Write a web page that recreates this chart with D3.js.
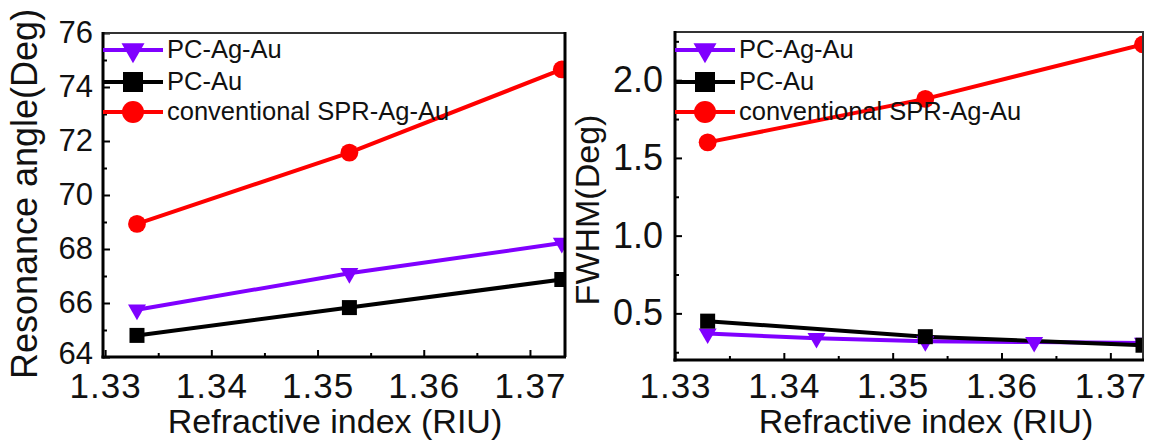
<!DOCTYPE html>
<html>
<head>
<meta charset="utf-8">
<script src="https://cdn.jsdelivr.net/npm/d3@7"></script>
<style>
  html, body { margin: 0; padding: 0; background: #fff; }
  svg { display: block; font-family: "Liberation Sans", Arial, sans-serif; }
</style>
</head>
<body>
<svg id="chart" width="1156" height="443"></svg>
<script>
// Refractive index of the sensing medium (RIU)
const riCoarse = [1.333, 1.353, 1.373];
const riFine = [1.333, 1.343, 1.353, 1.363, 1.373];

// Resonance angle (deg)
const angleAgAu = [65.75, 67.1, 68.22];
const angleAu = [64.8, 65.83, 66.87];
const angleSPR = [68.93, 71.57, 74.65];

// FWHM (deg)
const fwhmAgAu = [0.37, 0.34, 0.32, 0.315, 0.31];
const fwhmAu = [0.45, 0.35, 0.295];
const fwhmSPR = [1.60, 1.88, 2.23];

const seriesNames = ["PC-Ag-Au", "PC-Au", "conventional SPR-Ag-Au"];

// Tick values
const xMajorTicks = [1.33, 1.34, 1.35, 1.36, 1.37];
const xMinorTicks = [1.335, 1.345, 1.355, 1.365];
const angleMajorTicks = [64, 66, 68, 70, 72, 74, 76];
const angleMinorTicks = [65, 67, 69, 71, 73, 75];
const fwhmMajorTicks = [0.5, 1.0, 1.5, 2.0];
const fwhmMinorTicks = [0.25, 0.75, 1.25, 1.75, 2.25];

const PURPLE = "#8000ff", BLACK = "#000000", RED = "#ff0000";

const svg = d3.select("#chart");

// marker shapes per series
const markerStyle = [
  { color: PURPLE, type: d3.symbolTriangle, rotate: 180, size: 140, legendSize: 230 },
  { color: BLACK, type: d3.symbolSquare, rotate: 0, size: 225, legendSize: 400 },
  { color: RED, type: d3.symbolCircle, rotate: 0, size: 250, legendSize: 380 }
];

function drawPanel(cfg) {
  const g = svg.append("g");
  const x = d3.scaleLinear().domain(cfg.xDomain).range([cfg.left, cfg.right]);
  const y = d3.scaleLinear().domain(cfg.yDomain).range([cfg.bottom, cfg.top]);

  const clipId = "clip-" + cfg.id;
  svg.append("clipPath").attr("id", clipId)
    .append("rect")
    .attr("x", cfg.left).attr("y", cfg.top)
    .attr("width", cfg.right - cfg.left).attr("height", cfg.bottom - cfg.top);

  const plot = g.append("g").attr("clip-path", `url(#${clipId})`);
  const line = d3.line().x(d => x(d[0])).y(d => y(d[1]));

  cfg.series.forEach((s, i) => {
    const st = markerStyle[i];
    const pts = s.xs.map((v, k) => [v, s.ys[k]]);
    plot.append("path")
      .datum(pts)
      .attr("d", line)
      .attr("fill", "none")
      .attr("stroke", st.color)
      .attr("stroke-width", 4)
      .attr("stroke-linejoin", "round");
  });
  cfg.series.forEach((s, i) => {
    const st = markerStyle[i];
    const pts = s.xs.map((v, k) => [v, s.ys[k]]);
    plot.selectAll(null)
      .data(pts)
      .enter().append("path")
      .attr("d", d3.symbol().type(st.type).size(st.size))
      .attr("transform", d => `translate(${x(d[0])},${y(d[1])}) rotate(${st.rotate})`)
      .attr("fill", st.color);
  });

  // ticks pointing inward
  const axisStyle = sel => {
    sel.select(".domain").remove();
    sel.selectAll(".tick line").attr("stroke", "#000").attr("stroke-width", 2);
  };

  g.append("g")
    .attr("transform", `translate(0,${cfg.bottom})`)
    .call(d3.axisBottom(x).tickValues(xMinorTicks).tickSize(-4).tickFormat(""))
    .call(axisStyle);
  const xAx = g.append("g")
    .attr("transform", `translate(0,${cfg.bottom})`)
    .call(d3.axisBottom(x).tickValues(xMajorTicks).tickSize(-7).tickPadding(cfg.xPad)
      .tickFormat(d3.format(".2f")))
    .call(axisStyle);
  xAx.selectAll(".tick text")
    .attr("fill", "#111")
    .attr("font-size", 35)
    .attr("font-family", "Liberation Sans, Arial, sans-serif")
    .attr("letter-spacing", 1);

  g.append("g")
    .attr("transform", `translate(${cfg.left},0)`)
    .call(d3.axisLeft(y).tickValues(cfg.yMinor).tickSize(-4).tickFormat(""))
    .call(axisStyle);
  const yAx = g.append("g")
    .attr("transform", `translate(${cfg.left},0)`)
    .call(d3.axisLeft(y).tickValues(cfg.yMajor).tickSize(-7).tickPadding(cfg.yPad)
      .tickFormat(cfg.yFormat))
    .call(axisStyle);
  yAx.selectAll(".tick text")
    .attr("fill", "#111")
    .attr("font-size", cfg.yFont)
    .attr("font-family", "Liberation Sans, Arial, sans-serif");
  // the lowest label sits just above the tick labels of the x axis
  yAx.selectAll(".tick text")
    .filter(d => d === cfg.yMajor[0] && cfg.yDomain[0] === d)
    .attr("dy", "0.2em");

  // frame
  g.append("line").attr("x1", cfg.left).attr("x2", cfg.right)
    .attr("y1", cfg.top).attr("y2", cfg.top)
    .attr("stroke", "#333").attr("stroke-width", 2);
  g.append("line").attr("x1", cfg.right).attr("x2", cfg.right)
    .attr("y1", cfg.top - 1).attr("y2", cfg.bottom)
    .attr("stroke", cfg.rightColor).attr("stroke-width", cfg.rightWidth);
  g.append("line").attr("x1", cfg.left).attr("x2", cfg.left)
    .attr("y1", cfg.top - 1).attr("y2", cfg.bottom + 1.5)
    .attr("stroke", "#000").attr("stroke-width", 3);
  g.append("line").attr("x1", cfg.left - 1.5).attr("x2", cfg.right + 1)
    .attr("y1", cfg.bottom).attr("y2", cfg.bottom)
    .attr("stroke", "#000").attr("stroke-width", 3);

  // axis titles
  g.append("text")
    .attr("x", cfg.xTitleX).attr("y", 433)
    .attr("text-anchor", "middle")
    .attr("font-size", 34)
    .attr("fill", "#111")
    .text("Refractive index (RIU)");
  g.append("text")
    .attr("transform", `translate(${cfg.yTitleX},${cfg.yTitleY}) rotate(-90)`)
    .attr("text-anchor", "middle")
    .attr("font-size", cfg.yTitleFont)
    .attr("fill", "#111")
    .text(cfg.yTitle);

  // legend
  const rowsY = [50, 82, 112];
  seriesNames.forEach((name, i) => {
    const st = markerStyle[i];
    const ly = rowsY[i];
    g.append("line")
      .attr("x1", cfg.left).attr("x2", cfg.left + 60)
      .attr("y1", ly).attr("y2", ly)
      .attr("stroke", st.color).attr("stroke-width", 4);
    g.append("path")
      .attr("d", d3.symbol().type(st.type).size(st.legendSize))
      .attr("transform", `translate(${cfg.left + 30},${ly}) rotate(${st.rotate})`)
      .attr("fill", st.color);
    g.append("text")
      .attr("x", cfg.left + 64).attr("y", ly + 8)
      .attr("font-size", 25.5)
      .attr("fill", "#111")
      .text(name);
  });
}

drawPanel({
  id: "angle",
  left: 103, right: 565, top: 33, bottom: 357,
  xDomain: [1.3298, 1.3733],
  yDomain: [64, 76],
  yMajor: angleMajorTicks, yMinor: angleMinorTicks,
  yFormat: d3.format("d"), yFont: 31, yPad: 10, xPad: 16,
  rightColor: "#000", rightWidth: 3,
  xTitleX: 335,
  yTitle: "Resonance angle(Deg)", yTitleX: 37, yTitleY: 194, yTitleFont: 36,
  series: [
    { xs: riCoarse, ys: angleAgAu },
    { xs: riCoarse, ys: angleAu },
    { xs: riCoarse, ys: angleSPR }
  ]
});

drawPanel({
  id: "fwhm",
  left: 675, right: 1143, top: 32, bottom: 360,
  xDomain: [1.33, 1.373],
  yDomain: [0.2, 2.31],
  yMajor: fwhmMajorTicks, yMinor: fwhmMinorTicks,
  yFormat: d3.format(".1f"), yFont: 36, yPad: 12, xPad: 13,
  rightColor: "#333", rightWidth: 2,
  xTitleX: 926,
  yTitle: "FWHM(Deg)", yTitleX: 599, yTitleY: 210, yTitleFont: 34,
  series: [
    { xs: riFine, ys: fwhmAgAu },
    { xs: riCoarse, ys: fwhmAu },
    { xs: riCoarse, ys: fwhmSPR }
  ]
});
</script>
</body>
</html>
